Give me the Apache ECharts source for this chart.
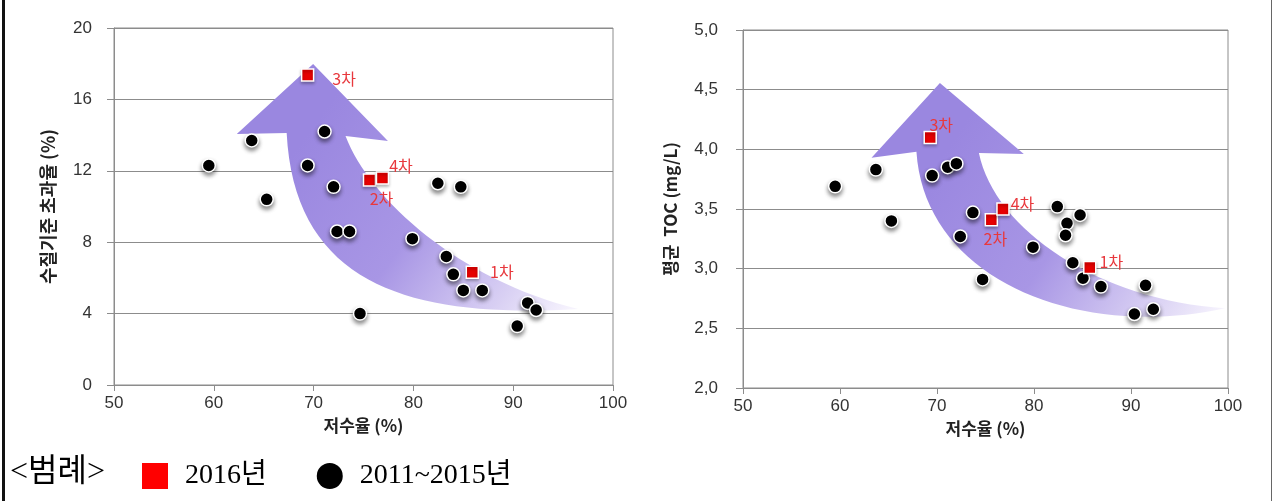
<!DOCTYPE html>
<html>
<head>
<meta charset="utf-8">
<script src="https://cdn.jsdelivr.net/npm/echarts@6/dist/echarts.min.js"></script>
<style>
  html, body { margin: 0; padding: 0; background: #fff; }
  #chart { width: 1275px; height: 501px; }
</style>
</head>
<body>
<div id="chart"></div>
<script>
// 저수율 (%) vs 수질기준 초과율 (%)  -- left panel
var leftPastX = [59.5, 63.8, 65.3, 69.4, 71.1, 72.0, 72.35, 73.6, 74.65, 79.9, 82.45, 84.75, 83.3, 84.0, 85.0, 86.9, 90.4, 91.45, 92.3];
var leftPastY = [12.3, 13.7, 10.4, 12.3, 14.2, 11.1, 8.6, 8.6, 4.0, 8.2, 11.3, 11.1, 7.2, 6.2, 5.3, 5.3, 3.3, 4.6, 4.2];
var left2016X = [85.9, 75.6, 69.4, 76.9];
var left2016Y = [6.32, 11.48, 17.36, 11.59];

// 저수율 (%) vs 평균 TOC (mg/L)  -- right panel
var rightPastX = [59.5, 63.7, 65.3, 69.5, 71.1, 72.0, 72.4, 73.7, 74.7, 79.9, 82.4, 83.4, 83.25, 84.75, 84.0, 85.05, 86.9, 90.35, 91.5, 92.3];
var rightPastY = [3.69, 3.83, 3.40, 3.78, 3.85, 3.88, 3.27, 3.47, 2.91, 3.18, 3.52, 3.38, 3.28, 3.45, 3.05, 2.92, 2.85, 2.62, 2.86, 2.66];
var right2016X = [85.75, 75.6, 69.3, 76.8];
var right2016Y = [3.01, 3.41, 4.10, 3.50];

var roundLabels = ["1차", "2차", "3차", "4차"];
var seriesNames = ["2016년", "2011~2015년"];

// outline of the decorative curved arrows, in data units of each panel
var leftArrow = {
  leftInner: [67.3, 14.12], leftBarb: [62.3, 14.06], tip: [69.95, 17.98],
  rightBarb: [77.45, 13.67], rightInner: [73.2, 13.95],
  inner1: [75.65, 10.36], inner2: [84.67, 5.88], tail: [96.5, 4.26],
  outer1: [68.1, 5.3], outer2: [80.7, 3.75]
};
var rightArrow = {
  leftInner: [67.88, 3.98], leftBarb: [63.25, 3.93], tip: [70.3, 4.556],
  rightBarb: [78.95, 3.96], rightInner: [74.32, 3.97],
  inner1: [75.97, 3.32], inner2: [86.8, 2.736], tail: [99.7, 2.669],
  outer1: [68.75, 2.9], outer2: [84.74, 2.4]
};

function zip(xs, ys) {
  return xs.map(function (x, i) { return [x, ys[i]]; });
}

var sans = "'Liberation Sans', Arial, 'Noto Sans CJK KR', sans-serif";
var kor = "'Noto Sans CJK KR', sans-serif";
var serif = "'Liberation Serif', 'Noto Sans CJK KR', serif";
var lineGray = "#8c8c8c";

function arrowRender(shape) {
  return function (params, api) {
    var keys = ["leftInner", "leftBarb", "tip", "rightBarb", "rightInner", "inner1", "inner2", "tail", "outer1", "outer2"];
    var p = {};
    keys.forEach(function (k) { p[k] = api.coord(shape[k]).join(","); });
    var d = "M" + p.leftInner + " L" + p.leftBarb + " L" + p.tip + " L" + p.rightBarb +
      " L" + p.rightInner + " C" + p.inner1 + " " + p.inner2 + " " + p.tail +
      " C" + p.outer2 + " " + p.outer1 + " " + p.leftInner + " Z";
    return {
      type: "path",
      shape: { pathData: d },
      style: {
        fill: new echarts.graphic.LinearGradient(0.25, 0.2, 1, 0.95, [
          { offset: 0, color: "#9a87e0" },
          { offset: 0.45, color: "#a896e5" },
          { offset: 0.8, color: "#d8cff3" },
          { offset: 1, color: "#f6f3fd" }
        ])
      }
    };
  };
}

function xAxisFor(gridIndex) {
  return {
    gridIndex: gridIndex,
    type: "value",
    min: 50, max: 100, interval: 10,
    name: "저수율 (%)",
    nameLocation: "middle",
    nameGap: 30,
    nameTextStyle: { fontFamily: kor, fontWeight: "bold", fontSize: 17, color: "#222" },
    axisLine: { show: true, lineStyle: { color: lineGray } },
    axisTick: { show: true, length: 6, lineStyle: { color: lineGray } },
    axisLabel: { fontFamily: sans, fontSize: 17, color: "#333", margin: 10 },
    splitLine: { show: false }
  };
}

var pastStyle = {
  color: "#000",
  opacity: 1,
  borderColor: "#fff",
  borderWidth: 1.5,
  shadowColor: "rgba(0,0,0,0.45)",
  shadowBlur: 4,
  shadowOffsetY: 3
};
var newStyle = {
  color: "#e60000",
  opacity: 1,
  borderColor: "#fff",
  borderWidth: 1.5,
  shadowColor: "rgba(0,0,0,0.3)",
  shadowBlur: 3,
  shadowOffsetY: 2
};
var labelBase = { show: true, fontFamily: kor, fontSize: 16, color: "#e8383d" };

// per-round label placement, panel by panel
var leftLabelPos = [
  { position: "right", distance: 11, offset: [0, 0] },
  { position: "bottom", distance: 4, offset: [12, 0] },
  { position: "right", distance: 18, offset: [0, 4] },
  { position: "right", distance: 0, offset: [0, -12] }
];
var rightLabelPos = [
  { position: "right", distance: 3, offset: [0, -6] },
  { position: "bottom", distance: 4, offset: [4, 0] },
  { position: "top", distance: 0, offset: [11, 2] },
  { position: "right", distance: 1, offset: [0, -5] }
];

function roundData(xs, ys, placement) {
  return xs.map(function (x, i) {
    return {
      value: [x, ys[i]],
      label: Object.assign({}, labelBase, placement[i], { formatter: roundLabels[i] })
    };
  });
}

var chart = echarts.init(document.getElementById("chart"));
var option = {
  backgroundColor: "#fff",
  animation: false,
  grid: [
    { left: 114, top: 28, width: 499, height: 357, show: true, borderColor: lineGray, borderWidth: 1, outerBoundsMode: "none" },
    { left: 743, top: 30, width: 485, height: 358, show: true, borderColor: lineGray, borderWidth: 1, outerBoundsMode: "none" }
  ],
  xAxis: [xAxisFor(0), xAxisFor(1)],
  yAxis: [
    {
      gridIndex: 0, type: "value", min: 0, max: 20, interval: 4,
      name: "수질기준 초과율 (%)", nameLocation: "middle", nameGap: 57,
      nameTextStyle: { fontFamily: kor, fontWeight: "bold", fontSize: 18, color: "#222" },
      axisLine: { show: true, lineStyle: { color: lineGray } },
      axisTick: { show: true, length: 7, lineStyle: { color: lineGray } },
      axisLabel: { fontFamily: sans, fontSize: 17, color: "#333", margin: 22 },
      splitLine: { show: true, lineStyle: { color: lineGray, width: 1 } }
    },
    {
      gridIndex: 1, type: "value", min: 2, max: 5, interval: 0.5,
      name: "평균  TOC (mg/L)", nameLocation: "middle", nameGap: 64,
      nameTextStyle: { fontFamily: kor, fontWeight: "bold", fontSize: 17, color: "#222" },
      axisLine: { show: true, lineStyle: { color: lineGray } },
      axisTick: { show: true, length: 7, lineStyle: { color: lineGray } },
      axisLabel: {
        fontFamily: sans, fontSize: 17, color: "#333", margin: 25,
        formatter: function (v) { return v.toFixed(1).replace(".", ","); }
      },
      splitLine: { show: true, lineStyle: { color: lineGray, width: 1 } }
    }
  ],
  legend: {
    left: 137,
    top: 457,
    itemWidth: 26,
    itemHeight: 26,
    itemGap: 50,
    selectedMode: false,
    itemStyle: { borderWidth: 0, shadowBlur: 0, shadowOffsetY: 0, opacity: 1 },
    textStyle: { fontFamily: serif, fontSize: 28, color: "#000", padding: [0, 0, 0, 12] },
    data: [
      { name: seriesNames[0], icon: "rect", itemStyle: { color: "#ff0000", opacity: 1, borderWidth: 0, shadowBlur: 0 } },
      { name: seriesNames[1], icon: "circle", itemStyle: { color: "#000000", opacity: 1, borderWidth: 0, shadowBlur: 0 } }
    ]
  },
  graphic: [
    { type: "rect", left: 2, top: 0, shape: { width: 3, height: 501 }, style: { fill: "#111" } },
    { type: "rect", left: 1271, top: 0, shape: { width: 1, height: 501 }, style: { fill: "#666" } },
    {
      type: "text", left: 10, top: 457,
      style: { text: "<범례>", font: "32px " + serif, fill: "#000" }
    }
  ],
  series: [
    { type: "custom", name: "arrowLeft", xAxisIndex: 0, yAxisIndex: 0, z: 1, silent: true, data: [0], renderItem: arrowRender(leftArrow) },
    { type: "custom", name: "arrowRight", xAxisIndex: 1, yAxisIndex: 1, z: 1, silent: true, data: [0], renderItem: arrowRender(rightArrow) },
    {
      type: "scatter", name: seriesNames[1], xAxisIndex: 0, yAxisIndex: 0, z: 3,
      symbol: "circle", symbolSize: 13, itemStyle: pastStyle,
      data: zip(leftPastX, leftPastY)
    },
    {
      type: "scatter", name: seriesNames[1], xAxisIndex: 1, yAxisIndex: 1, z: 3,
      symbol: "circle", symbolSize: 13, itemStyle: pastStyle,
      data: zip(rightPastX, rightPastY)
    },
    {
      type: "scatter", name: seriesNames[0], xAxisIndex: 0, yAxisIndex: 0, z: 4,
      symbol: "rect", symbolSize: 12, itemStyle: newStyle,
      data: roundData(left2016X, left2016Y, leftLabelPos)
    },
    {
      type: "scatter", name: seriesNames[0], xAxisIndex: 1, yAxisIndex: 1, z: 4,
      symbol: "rect", symbolSize: 12, itemStyle: newStyle,
      data: roundData(right2016X, right2016Y, rightLabelPos)
    }
  ]
};
chart.setOption(option);
</script>
</body>
</html>
